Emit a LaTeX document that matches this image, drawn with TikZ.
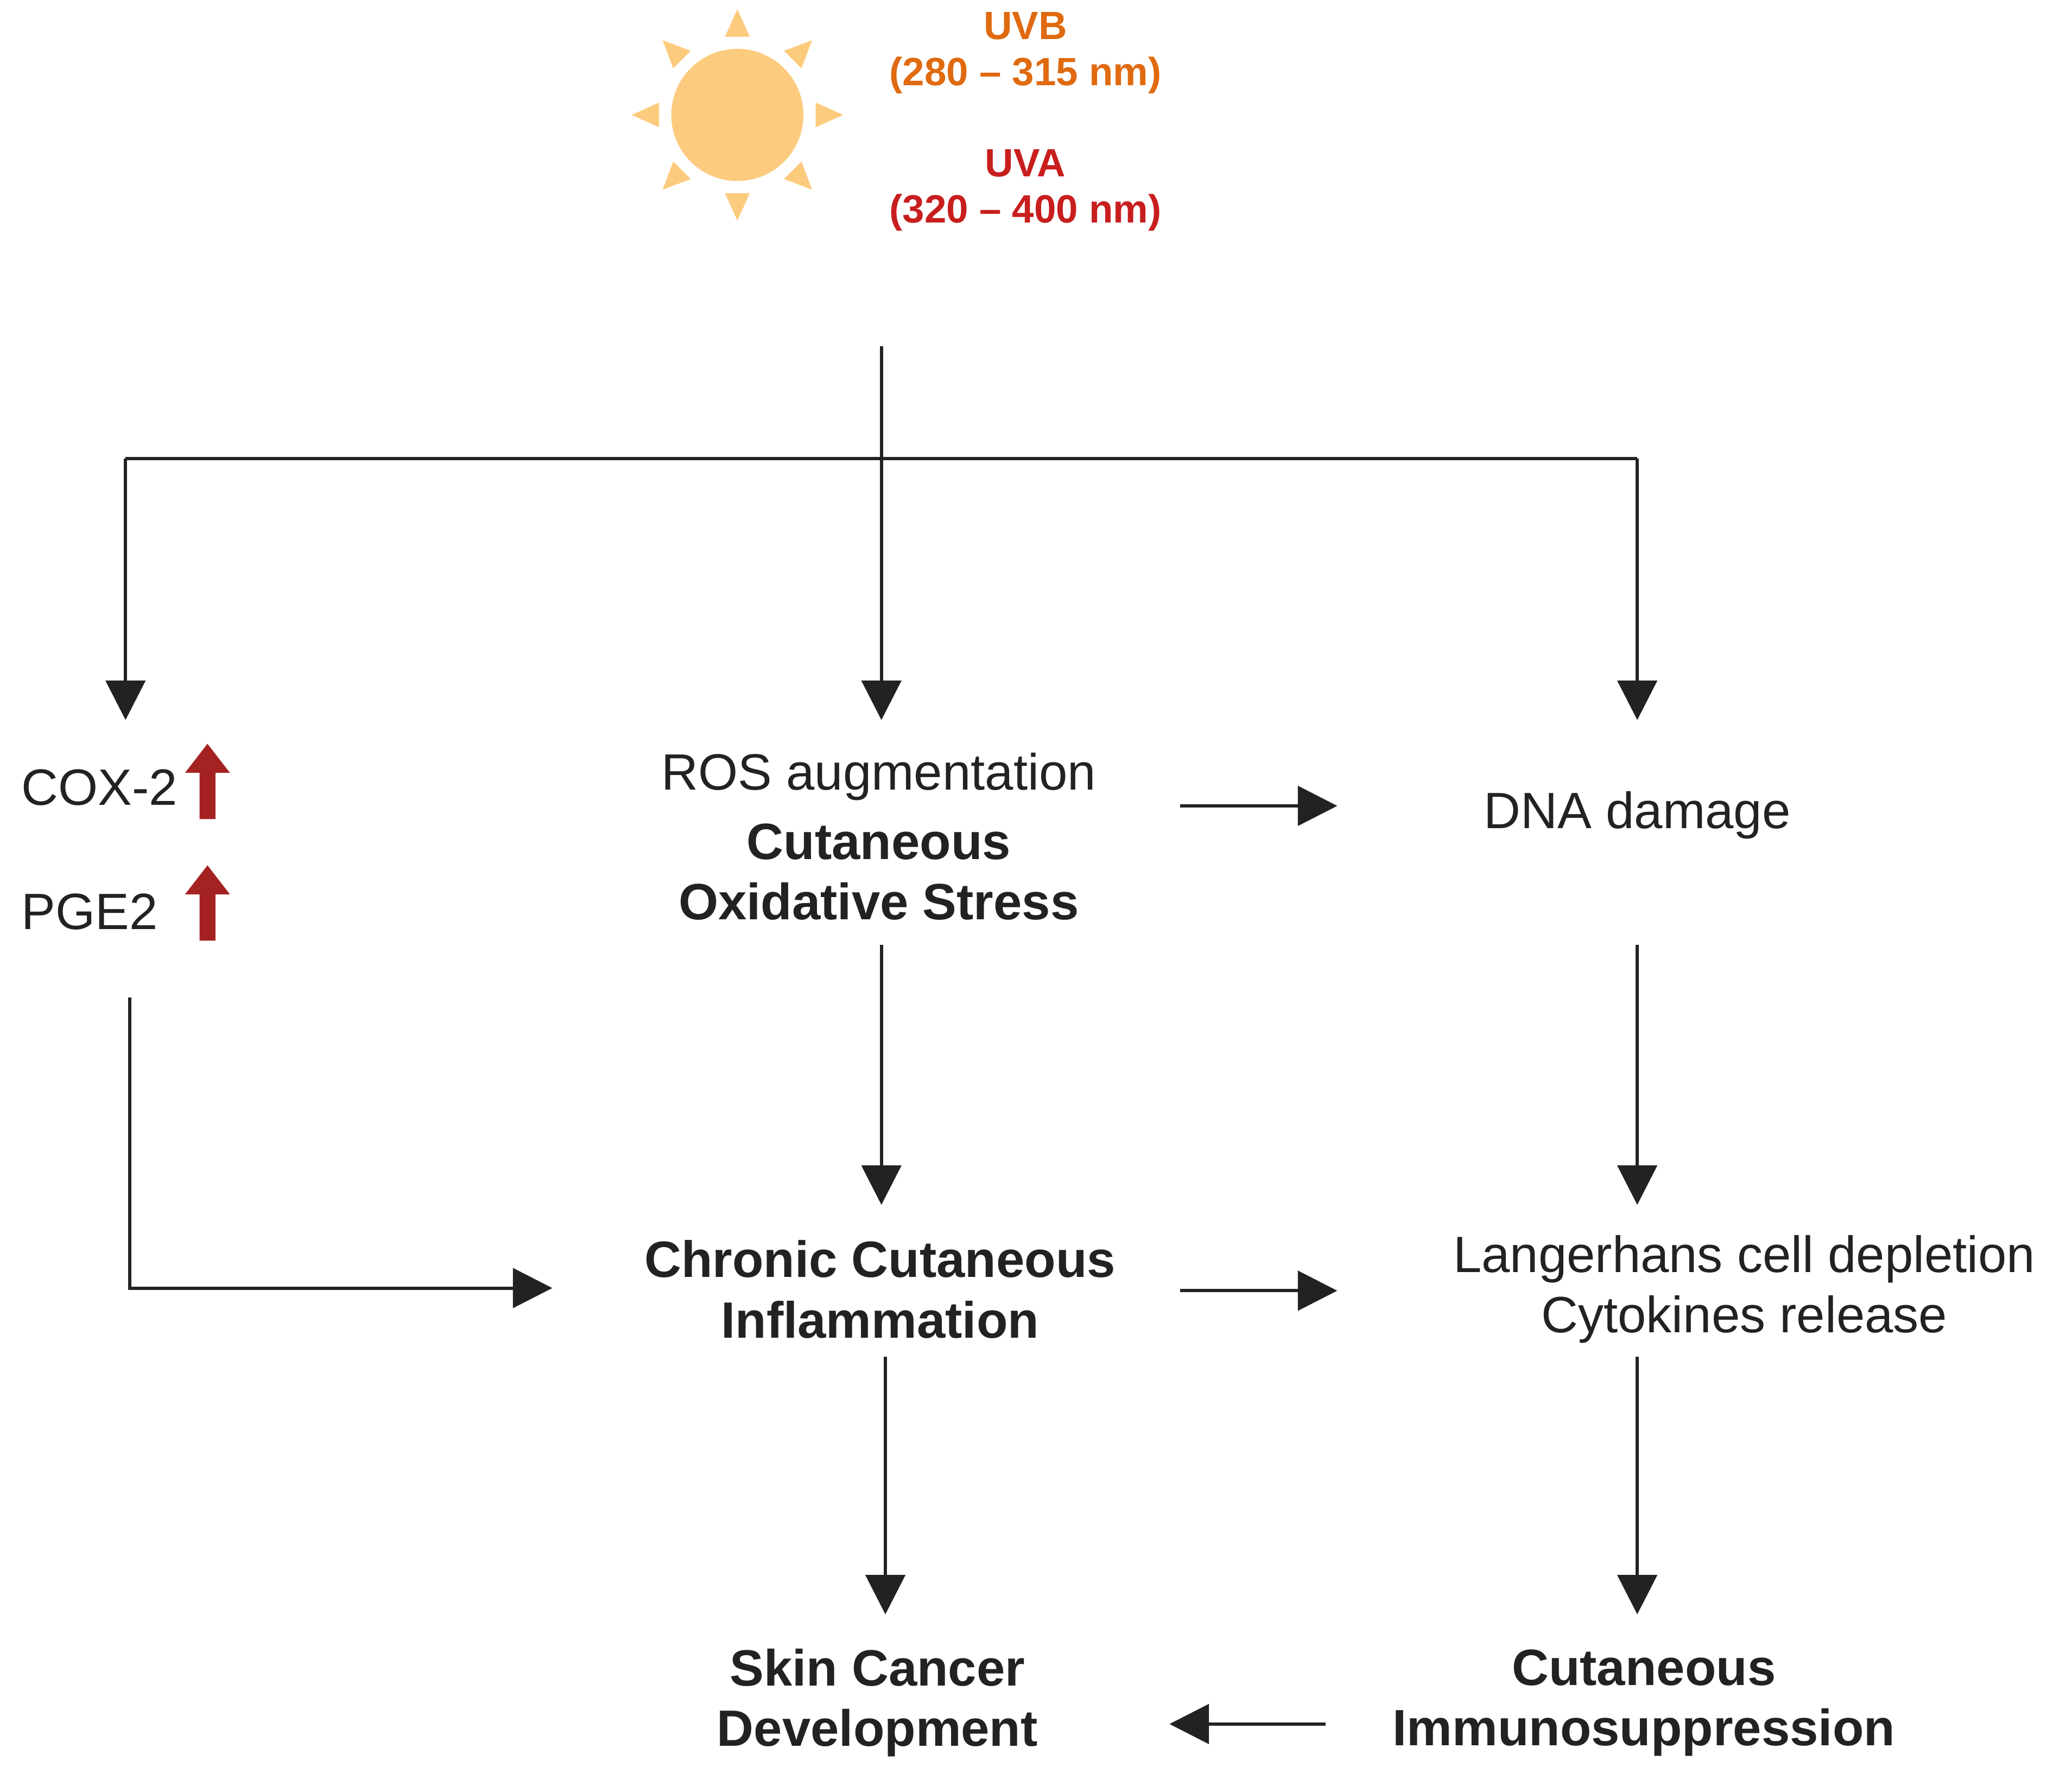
\documentclass[tikz,border=0pt]{standalone}
\usepackage{fontspec}
\setmainfont{Liberation Sans}
\usetikzlibrary{arrows.meta,calc}
\definecolor{sun}{HTML}{FDCB7E}
\definecolor{uvb}{HTML}{E06A10}
\definecolor{uva}{HTML}{C81E1E}
\definecolor{upr}{HTML}{A52222}
\definecolor{ln}{HTML}{222222}
\begin{document}
\begin{tikzpicture}[x=0.02cm,y=-0.02cm,
  conn/.style={draw=ln,line width=1.4pt,-{Triangle[length=17pt,width=17pt]}},
  plain/.style={draw=ln,line width=1.4pt},
  t/.style={font=\fontsize{22}{26}\selectfont,text=ln,align=center},
  tb/.style={t,font=\fontsize{22}{26}\selectfont\bfseries},
  uv/.style={font=\fontsize{17}{20}\selectfont\bfseries,align=center}]
\useasboundingbox (0,0) rectangle (1568,1347);
% sun
\fill[sun] (558,87) circle (50);
\foreach \a in {0,45,...,315}{
  \fill[sun] ($(558,87)+(\a:80)$) -- ($(558,87)+(\a+9:60)$) -- ($(558,87)+(\a-9:60)$) -- cycle;}
\node[uv,text=uvb] (uvb) at (776,40) {UVB\\(280 – 315 nm)};
\node[uv,text=uva] (uva) at (776,144) {UVA\\(320 – 400 nm)};
% top fork
\coordinate (s) at (667,262); \coordinate (m) at (667,347);
\coordinate (l) at (95,347); \coordinate (r) at (1239,347);
\coordinate (le) at (95,545); \coordinate (me) at (667,545); \coordinate (re) at (1239,545);
\draw[plain] (l) -- (r);
\draw[conn] (s) -- (me);
\draw[conn] (l) -- (le);
\draw[conn] (r) -- (re);
% left column
\node[t,anchor=west] (cox) at (10,596) {COX-2};
\node[t,anchor=west] (pge) at (10,690) {PGE2};
\foreach \y/\n in {620/a1,712/a2}{
  \fill[upr] (151,\y) -- (151,\y-35) -- (140,\y-35) -- (157,\y-57) -- (174,\y-35) -- (163,\y-35) -- (163,\y) -- cycle;}
% middle
\node[t] (ros) at (665,588) {ROS augmentation};
\node[tb] (cos) at (665,660) {Cutaneous\\Oxidative Stress};
\node[t] (dna) at (1239,617) {DNA damage};
\node[tb] (cci) at (666,976) {Chronic Cutaneous\\Inflammation};
\node[t] (lan) at (1320,976) {Langerhans cell depletion\\Cytokines release};
\node[tb] (scd) at (664,1289) {Skin Cancer\\Development};
\node[tb] (cim) at (1244,1289) {Cutaneous\\Immunosuppression};
\coordinate (a1) at (893,610); \coordinate (a2) at (1012,610);
\draw[conn] (a1) -- (a2);
\coordinate (b1) at (667,715); \coordinate (b2) at (667,912);
\draw[conn] (b1) -- (b2);
\coordinate (c1) at (1239,715); \coordinate (c2) at (1239,912);
\draw[conn] (c1) -- (c2);
\coordinate (p1) at (98,755); \coordinate (p2) at (98,975); \coordinate (p3) at (418,975);
\draw[conn] (p1) -- (p2) -- (p3);
\coordinate (d1) at (893,977); \coordinate (d2) at (1012,977);
\draw[conn] (d1) -- (d2);
\coordinate (e1) at (670,1027); \coordinate (e2) at (670,1222);
\draw[conn] (e1) -- (e2);
\coordinate (f1) at (1239,1027); \coordinate (f2) at (1239,1222);
\draw[conn] (f1) -- (f2);
\coordinate (g1) at (1003,1305); \coordinate (g2) at (885,1305);
\draw[conn] (g1) -- (g2);
\end{tikzpicture}
\end{document}
